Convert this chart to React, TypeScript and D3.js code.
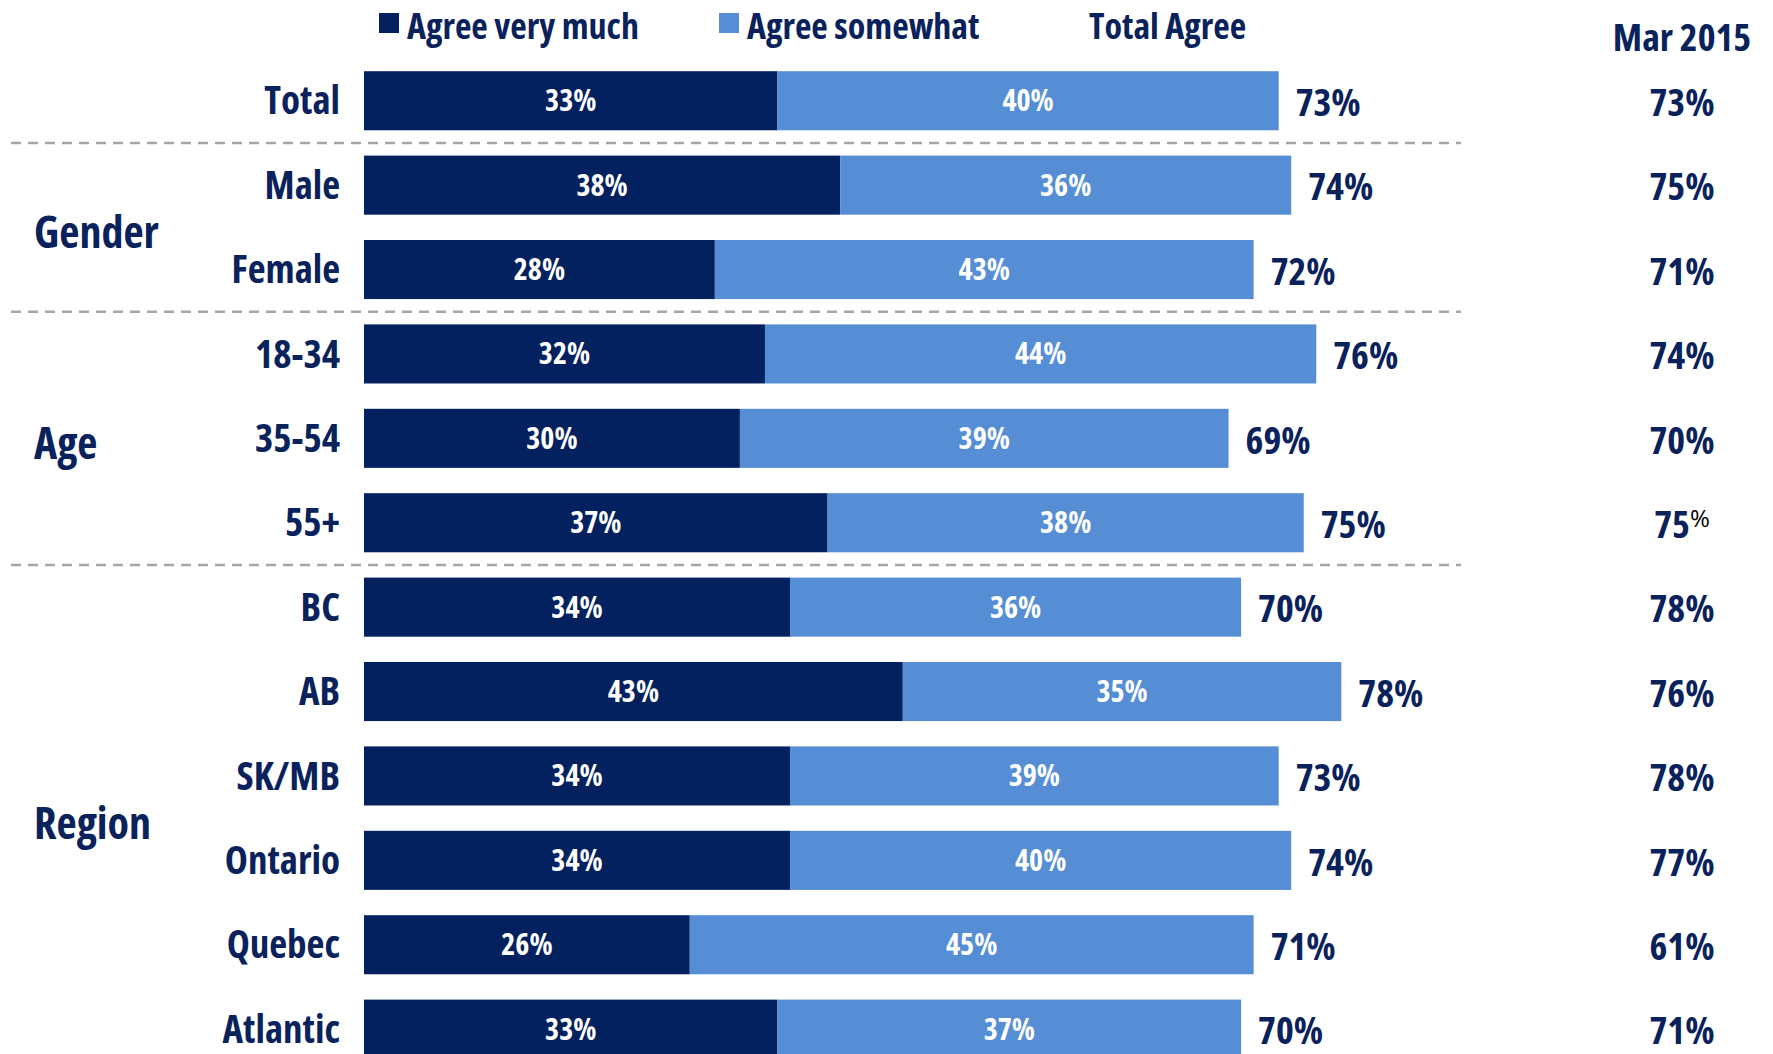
import React from 'react';
import * as d3 from 'd3';

// values
const categories = ['Total', 'Male', 'Female', '18-34', '35-54', '55+', 'BC', 'AB', 'SK/MB', 'Ontario', 'Quebec', 'Atlantic'];
const agreeVeryMuch = [33, 38, 28, 32, 30, 37, 34, 43, 34, 34, 26, 33];
const agreeSomewhat = [40, 36, 43, 44, 39, 38, 36, 35, 39, 40, 45, 37];
const totalAgree = [73, 74, 72, 76, 69, 75, 70, 78, 73, 74, 71, 70];
const mar2015 = [73, 75, 71, 74, 70, 75, 78, 76, 78, 77, 61, 71];

const groupNames = ['Gender', 'Age', 'Region'];
const groupRows = [['Male', 'Female'], ['18-34', '35-54', '55+'], ['BC', 'AB', 'SK/MB', 'Ontario', 'Quebec', 'Atlantic']];
const separatorsAfter = ['Total', 'Female', '55+'];

const seriesNames = ['Agree very much', 'Agree somewhat'];

const WIDTH = 1773;
const HEIGHT = 1054;
const DARK = '#03215E';
const LIGHT = '#558ED5';
const TEXT = '#0A225C';
const FONT = '"Open Sans", sans-serif';

const BAR_LEFT = 364;
const PX_PER_PCT = 12.53;
const ROW_STEP = 84.4;
const FIRST_TOP = 71.2;

const App = () => {
  const x = d3.scaleLinear().domain([0, 100]).range([BAR_LEFT, BAR_LEFT + PX_PER_PCT * 100]);

  const y = d3.scaleBand<string>()
    .domain(categories)
    .range([FIRST_TOP - ROW_STEP * 0.15, FIRST_TOP - ROW_STEP * 0.15 + ROW_STEP * categories.length])
    .paddingInner(0.3)
    .paddingOuter(0.15);

  const bw = y.bandwidth();
  const mid = (c: string) => (y(c) as number) + bw / 2;

  const rows = categories.map((c, i) => ({
    cat: c,
    vm: agreeVeryMuch[i],
    sw: agreeSomewhat[i],
    total: totalAgree[i],
    prev: mar2015[i],
  }));

  return (
    <svg width={WIDTH} height={HEIGHT} style={{ position: 'absolute', left: 0, top: 0, background: '#fff', fontStretch: 'condensed' }}
      fontFamily={FONT} fontWeight="bold">
      {/* legend */}
      <g>
        <rect x={379} y={13} width={20} height={20} fill={DARK} />
        <text x={407} y={39} fontSize={36} fill={TEXT}>{seriesNames[0]}</text>
        <rect x={719} y={13} width={20} height={20} fill={LIGHT} />
        <text x={747} y={39} fontSize={36} fill={TEXT}>{seriesNames[1]}</text>
        <text x={1089} y={39} fontSize={36} fill={TEXT}>Total Agree</text>
        <text x={1682} y={38} dy="0.35em" fontSize={38} fill={TEXT} textAnchor="middle">Mar 2015</text>
      </g>

      {/* separators */}
      {separatorsAfter.map(c => {
        const i = categories.indexOf(c);
        const yy = ((y(c) as number) + bw + (y(categories[i + 1]) as number)) / 2;
        return (
          <line key={c} x1={11} x2={1461} y1={yy} y2={yy} stroke="#A6A6A6" strokeWidth={2.5} strokeDasharray="10,7" />
        );
      })}

      {/* bars */}
      {rows.map(r => (
        <g key={r.cat}>
          <rect x={x(0)} y={y(r.cat)} width={x(r.vm) - x(0)} height={bw} fill={DARK} />
          <rect x={x(r.vm)} y={y(r.cat)} width={x(r.vm + r.sw) - x(r.vm)} height={bw} fill={LIGHT} />
          <text x={(x(0) + x(r.vm)) / 2} y={mid(r.cat)} dy="0.35em" textAnchor="middle" fontSize={30} fill="#fff">{r.vm}%</text>
          <text x={(x(r.vm) + x(r.vm + r.sw)) / 2} y={mid(r.cat)} dy="0.35em" textAnchor="middle" fontSize={30} fill="#fff">{r.sw}%</text>
          <text x={x(r.vm + r.sw) + 17} y={mid(r.cat) + 2} dy="0.35em" fontSize={38} fill={TEXT}>{r.total}%</text>
          <text x={340} y={mid(r.cat)} dy="0.35em" textAnchor="end" fontSize={39} fill={TEXT}>{r.cat}</text>
          {r.cat === '55+' ? (
            <text x={1682} y={mid(r.cat) + 2} dy="0.35em" textAnchor="middle" fontSize={38} fill={TEXT}>
              {r.prev}
              <tspan fontSize={24} fontWeight="normal" fill="#000" dy="-11" style={{ fontStretch: 'normal' }}>%</tspan>
            </text>
          ) : (
            <text x={1682} y={mid(r.cat) + 2} dy="0.35em" textAnchor="middle" fontSize={38} fill={TEXT}>{r.prev}%</text>
          )}
        </g>
      ))}

      {/* group labels */}
      {groupNames.map((g, gi) => {
        const rs = groupRows[gi];
        const yy = (mid(rs[0]) + mid(rs[rs.length - 1])) / 2 + 5;
        return (
          <text key={g} x={34} y={yy} dy="0.35em" fontSize={44} fill={TEXT}>{g}</text>
        );
      })}
    </svg>
  );
};

export default App;
